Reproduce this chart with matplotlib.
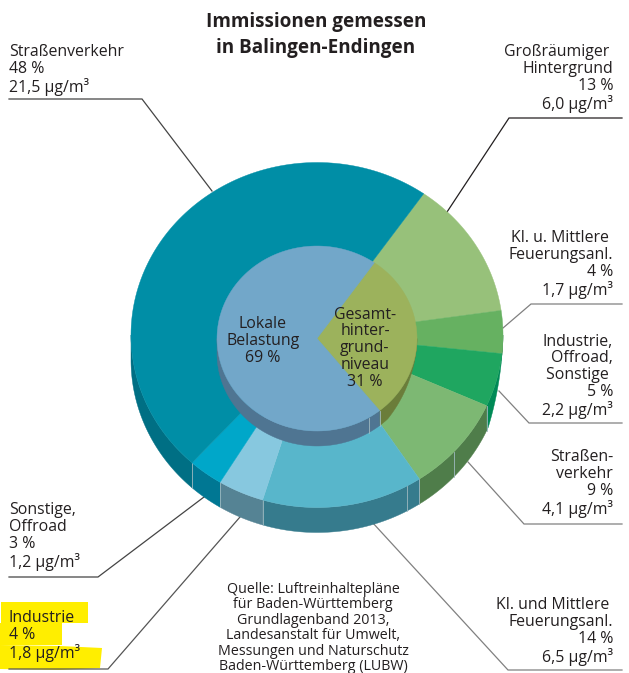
#!/usr/bin/env python3
"""
Pie-style ring chart of the measured immissions in Balingen-Endingen.
"""
import numpy as np
import matplotlib
matplotlib.use("Agg")
import matplotlib.pyplot as plt

# Outer ring, clockwise from the top right, in percent
outer_names = ["Großräumiger\u00a0\nHintergrund", "Kl. u. Mittlere\u00a0\nFeuerungsanl.",
               "Industrie,\nOffroad,\nSonstige\u00a0", "Straßen-\nverkehr",
               "Kl. und Mittlere\u00a0\nFeuerungsanl.", "Industrie", "Sonstige,\nOffroad", "Straßenverkehr"]
outer_shares = [13, 4, 5, 9, 14, 4, 3, 48]
outer_conc = ["6,0", "1,7", "2,2", "4,1", "6,5", "1,8", "1,2", "21,5"]
outer_colors = ["#97c17a", "#66b161", "#1fa660", "#7db873", "#58b6cb", "#87c8df", "#00a7c9", "#008ea6"]
outer_walls = ["#5c8a50", "#3f8a55", "#008a56", "#4f7d4a", "#367b8d", "#558394", "#007793", "#006f84"]

inner_labels = ["Gesamt-\nhinter-\ngrund-\nniveau\n31 %", "Lokale\nBelastung\n69 %"]
inner_drawn = [29.5, 70.5]
inner_colors = ["#9cb25c", "#72a7c9"]
inner_walls = ["#6b7d3a", "#4f7592"]

START = 55  # degrees, where the first slice begins
INK = "#231f20"

# Layout in picture pixels, taper = angles over which the wall grows to full depth
OUT = dict(cx=317, cy=335, rx=186, ry=172.5, depth=25, taper=(-5, -23), seams=[-42.5, -61])
INN = dict(cx=317, cy=338.5, rx=100, ry=92.5, depth=15, taper=(-8, -45), seams=[-59])
LINE_PTS = {
    0: ([622, 509, 447], [118, 118, 212], "#231f20"),
    1: ([622, 531, 503], [304, 304, 328], "#808080"),
    2: ([622, 529, 499], [423, 423, 391], "#808080"),
    3: ([622, 524, 468], [524, 524, 462], "#808080"),
    4: ([622, 508, 372], [670, 670, 522], "#808080"),
    5: ([9, 108, 240], [669, 669, 517], "#555555"),
    6: ([9, 98, 204], [577, 577, 497], "#444444"),
    7: ([9, 142, 212], [99, 99, 191], "#444444"),
}
# x, last baseline, alignment of each outer label
LABEL_POS = [(613, 109, "right"), (613, 295, "right"), (613, 415, "right"), (613, 514, "right"),
             (613, 662, "right"), (9, 658, "left"), (9, 567, "left"), (9, 92, "left")]

plt.rcParams["font.family"] = ["Open Sans", "DejaVu Sans"]
fig = plt.figure(figsize=(6.29, 6.73), dpi=100)
ax = fig.add_axes([0, 0, 1, 1])
ax.set_xlim(0, 629)
ax.set_ylim(673, 0)
ax.axis("off")


def arc(g, a0, a1):
    t = np.linspace(a0, a1, 120)
    r = np.radians(t)
    return g["cx"] + g["rx"] * np.cos(r), g["cy"] - g["ry"] * np.sin(r), t


def wall_depth(g, t):
    t0, t1 = g["taper"]
    return g["depth"] * np.clip((t0 - t) / (t0 - t1), 0, 1)


def slices(shares):
    edges = START - np.cumsum([0] + list(shares)) * 3.6
    return list(zip(edges[:-1], edges[1:]))


def draw_ring(g, shares, tops, walls, z):
    parts = slices(shares)
    # side wall first, only the part facing the viewer (-180 to 0 degrees)
    for (a0, a1), c in zip(parts, walls):
        for off in (0, -360):
            hi, lo = min(a0 + off, 0), max(a1 + off, -180)
            if hi > lo:
                x, y, t = arc(g, hi, lo)
                ax.fill(np.r_[x, x[::-1]], np.r_[y, (y + wall_depth(g, t))[::-1]], color=c, lw=0.3, zorder=z)
    # seams on the wall, at slice edges and the extra ones of the print
    edges = [a1 for a0, a1 in parts if -180 < a1 < -23]
    for a in edges + g["seams"]:
        x, y, t = arc(g, a, a)
        ax.plot([x[0], x[0]], [y[0], y[0] + wall_depth(g, t)[0]], color="#9fb9c0", lw=0.6, zorder=z + 0.1)
    # top face
    for (a0, a1), c in zip(parts, tops):
        x, y, t = arc(g, a0, a1)
        ax.fill(np.r_[g["cx"], x], np.r_[g["cy"], y], color=c, lw=0.3, zorder=z + 0.2)


# Yellow marker highlight behind the Industrie label
ax.fill([1, 88, 88, 1], [602, 602, 623, 623], color="#ffee00", lw=0, zorder=1)
ax.fill([0, 62, 62, 0], [623, 623, 645, 645], color="#ffee00", lw=0, zorder=1)
ax.fill([0, 60, 102, 100, 60, 0], [645, 646, 648, 668, 670, 669], color="#ffee00", lw=0, zorder=1)

for xs, ys, c in LINE_PTS.values():
    ax.plot(xs, ys, color=c, lw=0.9, zorder=2, solid_joinstyle="miter")

draw_ring(OUT, outer_shares, outer_colors, outer_walls, 3)
draw_ring(INN, inner_drawn, inner_colors, inner_walls, 5)

ax.text(316, 27, "Immissionen gemessen", ha="center", va="baseline", fontsize=13.6, fontweight="bold", color=INK, zorder=8)
ax.text(316, 53, "in Balingen-Endingen", ha="center", va="baseline", fontsize=13.6, fontweight="bold", color=INK, zorder=8)

for name, share, conc, (x, y, ha) in zip(outer_names, outer_shares, outer_conc, LABEL_POS):
    ax.text(x, y, f"{name}\n{share} %\n{conc} µg/m³", ha=ha, va="baseline", multialignment=ha,
            fontsize=11.4, linespacing=1.07, color=INK, zorder=8)

ax.text(365, 386, inner_labels[0], ha="center", va="baseline", fontsize=11.4, linespacing=1.07, color=INK, zorder=8)
ax.text(263, 362, inner_labels[1], ha="center", va="baseline", fontsize=11.4, linespacing=1.07, color=INK, zorder=8)

source = ("Quelle: Luftreinhaltepläne\nfür Baden-Württemberg\nGrundlagenband 2013,\n"
          "Landesanstalt für Umwelt,\nMessungen und Naturschutz\nBaden-Württemberg (LUBW)")
ax.text(313, 670, source, ha="center", va="baseline", fontsize=10.3, linespacing=1.04, color=INK, zorder=8)

fig.savefig("out.png", dpi=100)
